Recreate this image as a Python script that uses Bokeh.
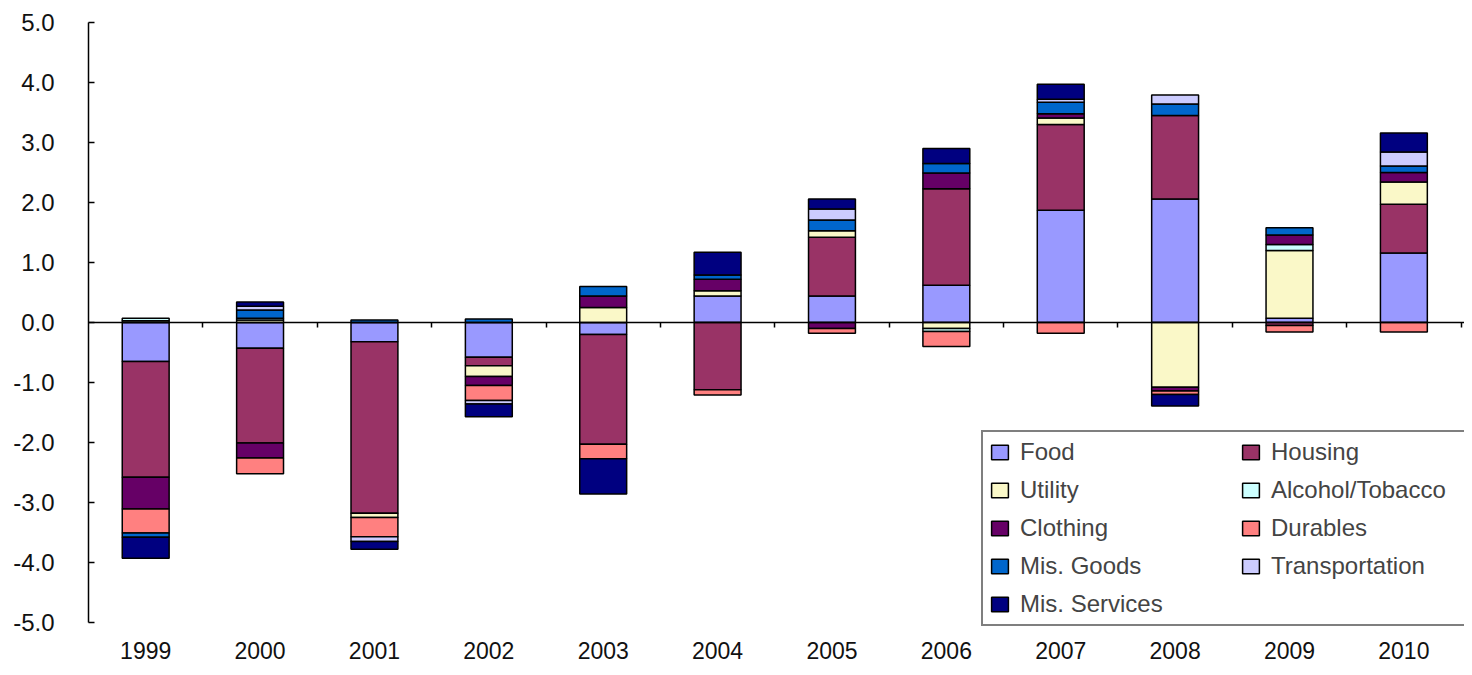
from bokeh.plotting import figure
from bokeh.models import (ColumnDataSource, Range1d, LinearAxis, FixedTicker,
                          NumeralTickFormatter, Legend, LegendItem, CustomJSTickFormatter)
from bokeh.embed import file_html
from bokeh.resources import INLINE

years = [1999, 2000, 2001, 2002, 2003, 2004, 2005, 2006, 2007, 2008, 2009, 2010]
series_names = ["Food", "Housing", "Utility", "Alcohol/Tobacco", "Clothing",
                "Durables", "Mis. Goods", "Transportation", "Mis. Services"]
colors = ["#9999FF", "#993366", "#FAF8C8", "#CCFFFF", "#660066",
          "#FF8080", "#0066CC", "#CCCCFF", "#000080"]

food = [-0.65, -0.43, -0.32, -0.58, -0.20, 0.44, 0.44, 0.62, 1.87, 2.06, 0.07, 1.16]
housing = [-1.93, -1.58, -2.86, -0.14, -1.83, -1.12, 0.98, 1.61, 1.43, 1.39, -0.05, 0.81]
utility = [0.03, 0.04, -0.07, -0.18, 0.25, 0.09, 0.11, -0.10, 0.11, -1.08, 1.13, 0.37]
alcohol = [0.04, 0.03, 0.0, 0.0, 0.0, 0.0, 0.0, -0.05, 0.0, 0.0, 0.10, 0.0]
clothing = [-0.53, -0.25, 0.0, -0.15, 0.19, 0.19, -0.10, 0.26, 0.07, -0.06, 0.16, 0.16]
durables = [-0.40, -0.26, -0.32, -0.25, -0.24, -0.09, -0.08, -0.25, -0.18, -0.06, -0.11, -0.16]
mis_goods = [-0.07, 0.14, 0.04, 0.06, 0.16, 0.07, 0.18, 0.16, 0.19, 0.19, 0.12, 0.11]
transportation = [0.0, 0.06, -0.08, -0.06, 0.0, 0.0, 0.18, 0.0, 0.05, 0.15, 0.0, 0.23]
mis_services = [-0.35, 0.07, -0.13, -0.21, -0.59, 0.38, 0.17, 0.25, 0.25, -0.19, 0.0, 0.32]

series_values = [food, housing, utility, alcohol, clothing, durables,
                 mis_goods, transportation, mis_services]

y_ticks = [-5, -4, -3, -2, -1, 0, 1, 2, 3, 4, 5]

FONT = "Liberation Sans"

p = figure(width=1464, height=667, x_range=Range1d(0.5, 12.53), y_range=Range1d(-5.0667, 5),
           output_backend="svg", toolbar_location=None,
           min_border_left=88, min_border_right=0, min_border_top=22, min_border_bottom=41)
p.outline_line_color = None
p.xgrid.visible = False
p.ygrid.visible = False
p.background_fill_color = "white"
p.border_fill_color = "white"

# stacked bars (positives and negatives stacked separately)
pos = [0.0] * len(years)
neg = [0.0] * len(years)
renderers = []
for name, col, vals in zip(series_names, colors, series_values):
    xs, bots, tops = [], [], []
    for i, v in enumerate(vals):
        if v > 0:
            b, t = pos[i], pos[i] + v
            pos[i] = t
        elif v < 0:
            b, t = neg[i], neg[i] + v
            neg[i] = t
        else:
            continue
        xs.append(i + 1)
        bots.append(b)
        tops.append(t)
    src = ColumnDataSource(dict(x=xs, bottom=bots, top=tops))
    r = p.vbar(x="x", bottom="bottom", top="top", width=0.41, source=src,
               fill_color=col, line_color="black", line_width=1.5)
    renderers.append(r)

# bottom category labels
xa = p.xaxis[0]
xa.ticker = FixedTicker(ticks=[i + 1 for i in range(len(years))])
xa.major_label_overrides = {i + 1: str(y) for i, y in enumerate(years)}
xa.axis_line_color = None
xa.major_tick_line_color = None
xa.minor_tick_line_color = None
xa.major_tick_in = 0
xa.major_tick_out = 0
xa.major_label_standoff = 15
xa.major_label_text_font = FONT
xa.major_label_text_font_size = "23px"
xa.major_label_text_color = "#111111"

# zero line axis with ticks between categories
zero_axis = LinearAxis(fixed_location=0,
                       ticker=FixedTicker(ticks=[i + 1.5 for i in range(len(years))]),
                       formatter=CustomJSTickFormatter(code="return ''"),
                       major_label_standoff=0,
                       major_tick_in=5, major_tick_out=0, minor_tick_line_color=None,
                       axis_line_width=1.5, major_tick_line_width=1.5,
                       axis_line_color="black", major_tick_line_color="black")
p.add_layout(zero_axis, "above")

# y axis
ya = p.yaxis[0]
ya.ticker = FixedTicker(ticks=y_ticks)
ya.bounds = (-5, 5)
ya.formatter = NumeralTickFormatter(format="0.0")
ya.major_tick_in = 6
ya.major_tick_out = 0
ya.minor_tick_line_color = None
ya.axis_line_width = 1.5
ya.major_tick_line_width = 1.5
ya.major_label_standoff = 34
ya.major_label_text_font = FONT
ya.major_label_text_font_size = "24px"
ya.major_label_text_color = "#111111"

legend = Legend(items=[LegendItem(label=n, renderers=[r]) for n, r in zip(series_names, renderers)],
                orientation="horizontal", ncols=2, location=(893, 0), margin=0,
                padding=6, spacing=10, label_width=210, label_standoff=10,
                glyph_width=21, glyph_height=18,
                label_text_font=FONT, label_text_font_size="24px",
                border_line_color="black", border_line_width=2,
                background_fill_color="white", background_fill_alpha=1.0)
p.add_layout(legend)

open("out.html", "w").write(file_html(p, INLINE))
